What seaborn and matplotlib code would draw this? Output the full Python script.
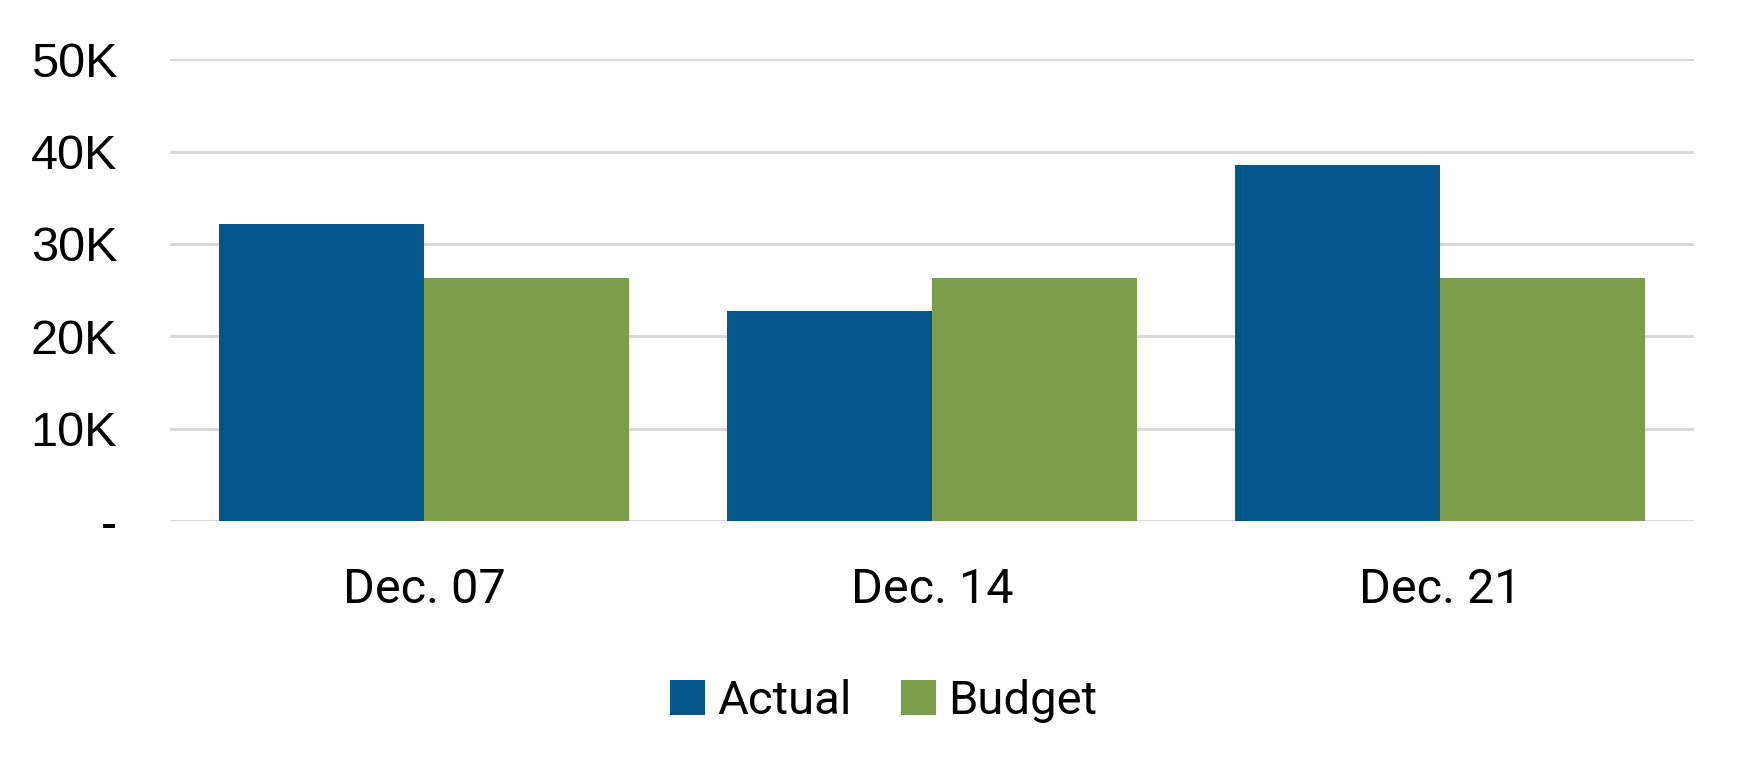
import matplotlib
matplotlib.use("Agg")
import matplotlib.pyplot as plt
import seaborn as sns
import pandas as pd
from matplotlib.ticker import FuncFormatter, MultipleLocator

categories = ["Dec. 07", "Dec. 14", "Dec. 21"]
actual = [32200, 22700, 38600]
budget = [26300, 26300, 26300]
series_names = ["Actual", "Budget"]
colors = ["#02568B", "#7B9E4A"]

df = pd.DataFrame({
    "week": categories * 2,
    "value": actual + budget,
    "series": [series_names[0]] * 3 + [series_names[1]] * 3,
})

sns.set_theme(style="white")
plt.rcParams["font.family"] = ["Roboto", "DejaVu Sans"]
plt.rcParams["text.color"] = "black"
plt.rcParams["xtick.color"] = "black"
plt.rcParams["ytick.color"] = "black"

fig = plt.figure(figsize=(17.5, 7.79), dpi=100)
ax = fig.add_axes([0.0971, 0.331, 0.871, 0.593])

sns.barplot(data=df, x="week", y="value", hue="series", palette=colors,
            width=0.807, gap=0, saturation=1, ax=ax, legend=True)
for p in ax.patches:
    p.set_edgecolor("none")

ax.set_ylim(0, 50000)
ax.yaxis.set_major_locator(MultipleLocator(10000))
ax.yaxis.set_major_formatter(FuncFormatter(lambda v, _: "-" if v == 0 else f"{v/1000:.0f}K"))
ax.grid(axis="y", color="#d6d6d6", linewidth=2.0)
ax.set_axisbelow(True)
for s in ax.spines.values():
    s.set_visible(False)
ax.set_xlabel("")
ax.set_ylabel("")
ax.tick_params(axis="y", length=0, pad=38, labelsize=35, labelcolor="black")
ax.tick_params(axis="x", length=0, pad=33, labelsize=35, labelcolor="black")
for t in ax.get_yticklabels():
    t.set_fontfamily(["Liberation Sans", "DejaVu Sans"])

handles, labels = ax.get_legend_handles_labels()
ax.legend_.remove()
leg = fig.legend(handles, labels, loc="center", bbox_to_anchor=(0.505, 0.10),
                 ncol=2, frameon=False, fontsize=34, handlelength=0.74, handleheight=0.74,
                 handletextpad=0.25, columnspacing=1.05)
for t in leg.get_texts():
    t.set_color("black")

fig.savefig("out.png", dpi=100)
